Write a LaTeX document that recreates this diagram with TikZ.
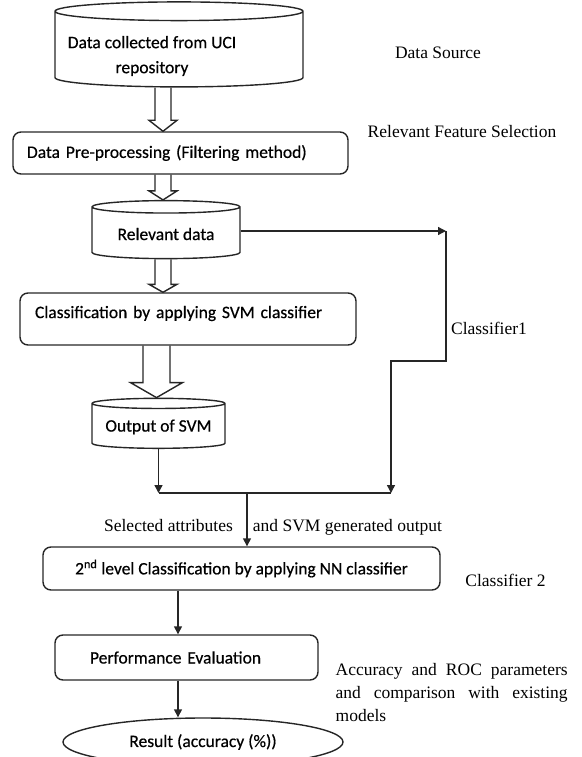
\documentclass[tikz,border=0pt]{standalone}
\usepackage{fontspec}
\setmainfont{Liberation Serif}
\newfontfamily\boxfont[FakeBold=0.5]{Carlito}
\usetikzlibrary{shapes.geometric,arrows.meta,calc}

\tikzset{
  flow/.style={draw, line width=1.4pt, font=\boxfont\fontsize{17.5}{25}\selectfont},
  procbox/.style={flow, rectangle, rounded corners=8pt},
  dbase/.style={flow, cylinder, shape border rotate=90, shape aspect=#1},
  boxtext/.style={inner sep=0pt, font=\boxfont\fontsize{17.5}{25}\selectfont},
  note/.style={inner sep=0pt, font=\fontsize{17.5}{23}\selectfont}
}

% hollow block arrow: start, tip, shaft half width, head half width, head length
\newcommand{\fatarrow}[5]{%
  \draw[line width=1.4pt] let \p1=(#1), \p2=(#2) in
    (\x1-#3pt,\y1) -- (\x1-#3pt,\y2+#5pt) -- (\x1-#4pt,\y2+#5pt) -- (\x1,\y2)
    -- (\x1+#4pt,\y2+#5pt) -- (\x1+#3pt,\y2+#5pt) -- (\x1+#3pt,\y1);}

\begin{document}
\begin{tikzpicture}[x=1pt, y=-1pt, >={Triangle[length=8pt,width=8pt]}, line width=1.4pt, draw=black!85]
  \useasboundingbox (0,0) rectangle (581,757);
  % ---- flow boxes ----
  \node[dbase=2.8, minimum width=248pt, minimum height=85pt] (src) at (179,50.5) {};
  \node[boxtext, align=center] (srctext) at (152,56) {Data collected from UCI\\repository};
  \node[procbox, minimum height=42pt, text width=307pt, inner xsep=14pt, align=left] (prep) at (180.5,153)
    {Data Pre-processing (Filtering method)};
  \node[dbase=0.12, minimum width=148pt, minimum height=58pt] (rel) at (166,234) {Relevant data};
  \node[procbox, minimum height=52pt, text width=306pt, inner xsep=15pt, text depth=14pt, align=left] (svm) at (188,319)
    {Classification by applying SVM classifier};
  \node[dbase=0.09, minimum width=133pt, minimum height=50pt] (out) at (158.5,427) {Output of SVM};
  \node[procbox, minimum width=397pt, minimum height=43pt] (nn) at (241.5,568.5)
    {2\textsuperscript{nd} level Classification by applying NN classifier};
  \node[procbox, minimum height=45pt, text width=193pt, inner xsep=35pt, align=left] (perf) at (186.5,657.5)
    {Performance Evaluation};
  \node[flow, ellipse, minimum width=280pt, minimum height=48pt] (res) at (203,742) {Result (accuracy (\%))};
  % ---- side notes ----
  \node[note] (lsrc) at (438,53) {Data Source};
  \node[note] (lsel) at (462,132) {Relevant Feature Selection};
  \node[note] (lcone) at (489,328) {Classifier1};
  \node[note] (lattr) at (168.5,526) {Selected attributes};
  \node[note] (lgen) at (347.5,527) {and SVM generated output};
  \node[note] (lctwo) at (505.5,580) {Classifier 2};
  \node[note, text width=232pt, align=justify, anchor=north west] (lacc) at (335,663)
    {Accuracy and ROC parameters and comparison with existing models};
  % ---- connectors ----
  \coordinate (colA) at (163,0);
  \coordinate (colB) at (156.5,0);
  \coordinate (colC) at (178,0);
  \fatarrow{colA |- src.south}{colA |- prep.north}{8}{14}{11}
  \fatarrow{colA |- prep.south}{colA |- rel.north}{8}{14}{9}
  \fatarrow{colA |- rel.south}{colA |- svm.north}{8}{14}{8}
  \fatarrow{colB |- svm.south}{colB |- out.north}{13.5}{26}{15}
  \coordinate (c1) at (446,231);
  \coordinate (c1b) at (391,361);
  \coordinate (jr) at (391,493);
  \coordinate (jl) at (out.south |- jr);
  \coordinate (jm) at (247,493);
  \draw[->] (rel.east |- c1) -- (c1);
  \draw[->] (c1) |- (c1b) -- (jr);
  \draw[->] (out.south) -- (jl);
  \draw (jl) -- (jr);
  \draw[->] (jm) -- (jm |- nn.north);
  \draw[->] (colC |- nn.south) -- (colC |- perf.north);
  \draw[->] (colC |- perf.south) -- (colC |- res.north);
\end{tikzpicture}
\end{document}
